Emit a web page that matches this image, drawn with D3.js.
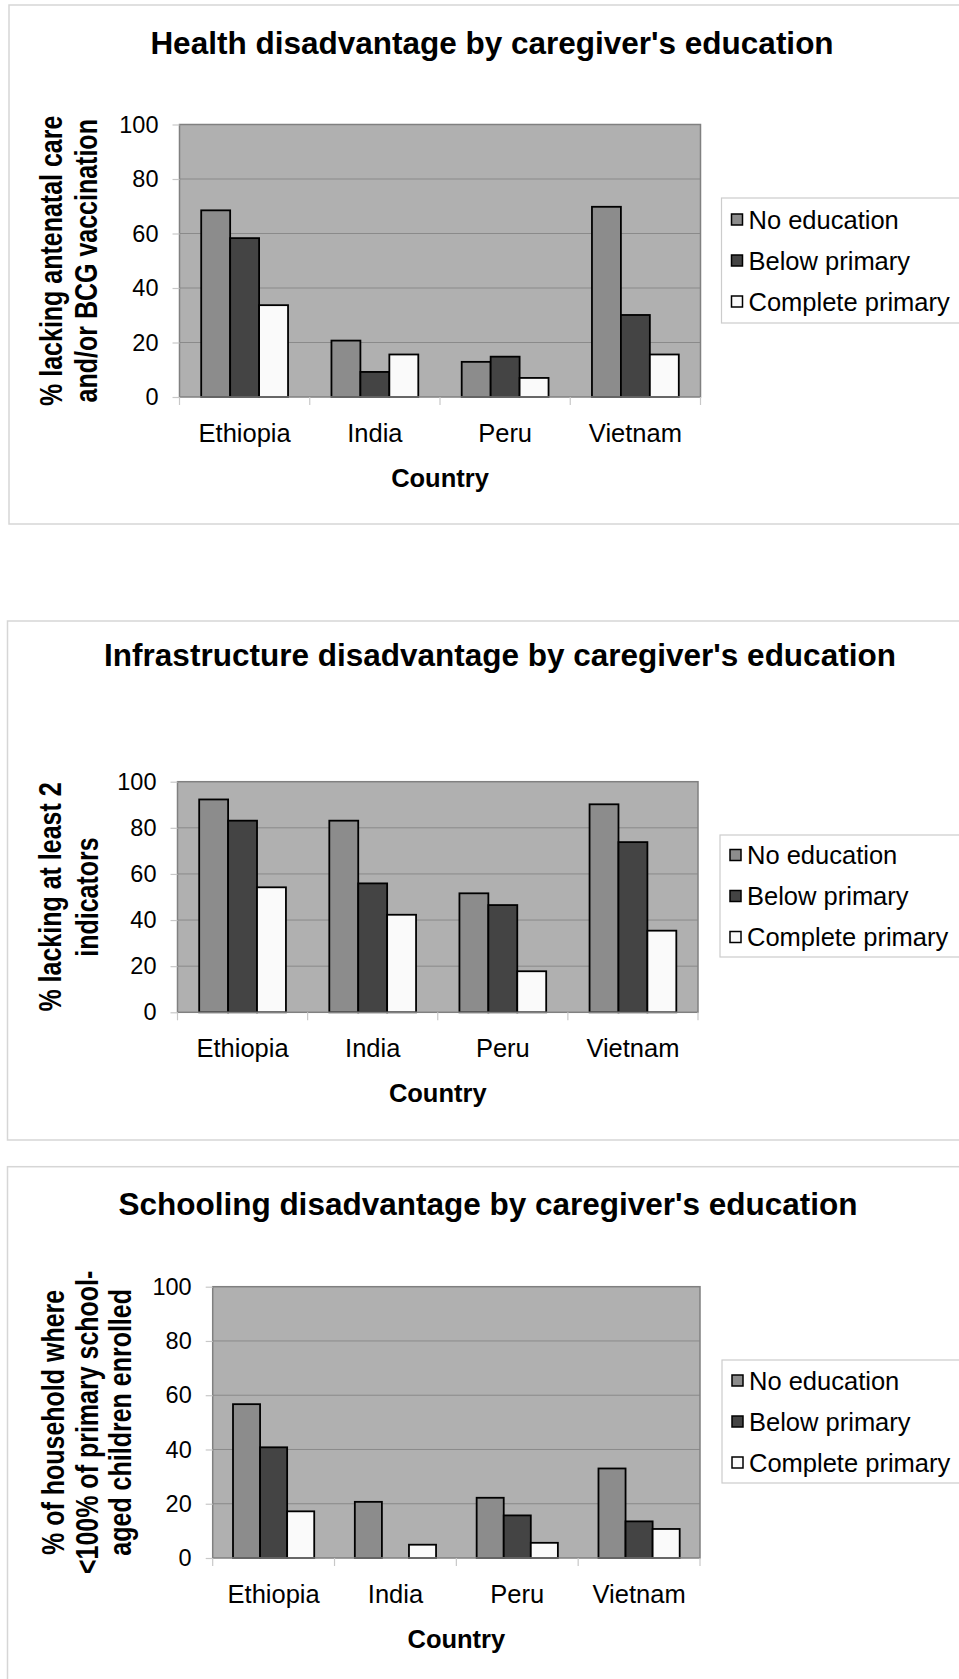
<!DOCTYPE html>
<html>
<head>
<meta charset="utf-8">
<script src="https://cdn.jsdelivr.net/npm/d3@7/dist/d3.min.js"></script>
<style>
  html, body { margin: 0; padding: 0; background: #ffffff; }
  svg { display: block; }
  text { font-family: "Liberation Sans", Arial, Helvetica, sans-serif; fill: #000; }
</style>
</head>
<body>
<svg id="page" width="959" height="1679"></svg>
<script>
// ---- data -------------------------------------------------------------
const countries = ["Ethiopia", "India", "Peru", "Vietnam"];
const seriesNames = ["No education", "Below primary", "Complete primary"];
const yTicks = [0, 20, 40, 60, 80, 100];

// % lacking antenatal care and/or BCG vaccination
const healthNoEducation      = [68.5, 20.7, 12.9, 69.8];
const healthBelowPrimary     = [58.3,  9.2, 14.8, 30.1];
const healthCompletePrimary  = [33.7, 15.6,  7.0, 15.6];

// % lacking at least 2 infrastructure indicators
const infraNoEducation       = [92.3, 83.1, 51.6, 90.2];
const infraBelowPrimary      = [83.1, 55.9, 46.5, 73.8];
const infraCompletePrimary   = [54.2, 42.3, 17.8, 35.4];

// % of households where <100% of primary school-aged children enrolled
const schoolNoEducation      = [56.7, 20.7, 22.2, 33.0];
const schoolBelowPrimary     = [40.8,  0.0, 15.7, 13.5];
const schoolCompletePrimary  = [17.2,  4.9,  5.6, 10.7];

// ---- styling ----------------------------------------------------------
const seriesFill = ["#8c8c8c", "#444444", "#fafafa"];
const plotFill = "#b0b0b0";

// ---- panel layout -----------------------------------------------------
const panels = [
  {
    title: "Health disadvantage by caregiver's education",
    yTitle: ["% lacking antenatal care", "and/or BCG vaccination"],
    series: [healthNoEducation, healthBelowPrimary, healthCompletePrimary],
    frame: { x: 9, y: 5, w: 980, h: 519 },
    titleXY: [492, 53.5],
    plot: { l: 179.5, r: 700.5, t: 124.5, b: 397 },
    legend: { x: 721.5, y: 198, h: 125 },
    yTitleX: [62, 97]
  },
  {
    title: "Infrastructure disadvantage by caregiver's education",
    yTitle: ["% lacking at least 2", "indicators"],
    series: [infraNoEducation, infraBelowPrimary, infraCompletePrimary],
    frame: { x: 7.5, y: 621, w: 990, h: 519 },
    titleXY: [500, 665.7],
    plot: { l: 177.5, r: 698, t: 781.7, b: 1012.3 },
    legend: { x: 720, y: 835, h: 122 },
    yTitleX: [61, 98]
  },
  {
    title: "Schooling disadvantage by caregiver's education",
    yTitle: ["% of household where", "<100% of primary school-", "aged children enrolled"],
    series: [schoolNoEducation, schoolBelowPrimary, schoolCompletePrimary],
    frame: { x: 7.5, y: 1166.7, w: 990, h: 560 },
    titleXY: [488, 1215],
    plot: { l: 212.7, r: 700, t: 1286.7, b: 1558 },
    legend: { x: 722, y: 1360, h: 123 },
    yTitleX: [64, 98, 131]
  }
];

const svg = d3.select("#page");

panels.forEach(p => {
  const g = svg.append("g");

  // chart area outline
  g.append("rect")
    .attr("x", p.frame.x).attr("y", p.frame.y)
    .attr("width", p.frame.w).attr("height", p.frame.h)
    .attr("fill", "#fff").attr("stroke", "#d6d6d6").attr("stroke-width", 1.5);

  // title
  g.append("text")
    .attr("x", p.titleXY[0]).attr("y", p.titleXY[1])
    .attr("text-anchor", "middle")
    .style("font-size", "31.5px").style("font-weight", "bold")
    .text(p.title);

  const x0 = d3.scaleBand().domain(countries).range([p.plot.l, p.plot.r]).paddingInner(0).paddingOuter(0);
  // 150% gap between groups: group occupies 3/4.5 of each band
  const groupW = x0.bandwidth() * 3 / 4.5;
  const x1 = d3.scaleBand().domain(seriesNames).range([0, groupW]).padding(0);
  const y = d3.scaleLinear().domain([0, 100]).range([p.plot.b, p.plot.t]);

  // plot background
  g.append("rect")
    .attr("x", p.plot.l).attr("y", p.plot.t)
    .attr("width", p.plot.r - p.plot.l).attr("height", p.plot.b - p.plot.t)
    .attr("fill", plotFill);

  // gridlines
  g.append("g").selectAll("line")
    .data(yTicks.filter(v => v > 0 && v < 100))
    .join("line")
    .attr("x1", p.plot.l).attr("x2", p.plot.r)
    .attr("y1", d => y(d)).attr("y2", d => y(d))
    .attr("stroke", "#8a8a8a").attr("stroke-width", 1);

  // bars
  const groups = g.append("g").selectAll("g")
    .data(countries)
    .join("g")
    .attr("transform", c => `translate(${x0(c) + (x0.bandwidth() - groupW) / 2},0)`);

  groups.selectAll("rect")
    .data((c, ci) => seriesNames.map((s, si) => ({ s, si, v: p.series[si][ci] })))
    .join("rect")
    .filter(d => d.v > 0)
    .attr("x", d => x1(d.s))
    .attr("y", d => y(d.v))
    .attr("width", x1.bandwidth())
    .attr("height", d => y(0) - y(d.v))
    .attr("fill", d => seriesFill[d.si])
    .attr("stroke", "#000").attr("stroke-width", 1.8);

  // plot border
  g.append("rect")
    .attr("x", p.plot.l).attr("y", p.plot.t)
    .attr("width", p.plot.r - p.plot.l).attr("height", p.plot.b - p.plot.t)
    .attr("fill", "none").attr("stroke", "#808080").attr("stroke-width", 1.5);

  // y axis
  const yAxis = d3.axisLeft(y).tickValues(yTicks).tickSize(7).tickPadding(14).tickFormat(d3.format("d"));
  const ya = g.append("g").attr("transform", `translate(${p.plot.l},0)`).call(yAxis);
  ya.select(".domain").remove();
  ya.selectAll(".tick line").attr("stroke", "#c8c8c8").attr("stroke-width", 1.2);
  ya.selectAll(".tick text")
    .style("font-size", "23.5px")
    .style("font-family", "'Liberation Sans', Arial, sans-serif")
    .attr("fill", "#000");

  // x axis
  const xAxis = d3.axisBottom(x0).tickSize(0).tickPadding(0);
  const xa = g.append("g").attr("transform", `translate(0,${p.plot.b})`).call(xAxis);
  xa.select(".domain").remove();
  xa.selectAll(".tick text")
    .attr("y", 45).attr("dy", 0)
    .style("font-size", "25.5px")
    .style("font-family", "'Liberation Sans', Arial, sans-serif")
    .attr("fill", "#000");
  // category divider ticks
  g.append("g").selectAll("line")
    .data(d3.range(countries.length + 1))
    .join("line")
    .attr("x1", i => p.plot.l + i * x0.bandwidth())
    .attr("x2", i => p.plot.l + i * x0.bandwidth())
    .attr("y1", p.plot.b).attr("y2", p.plot.b + 8)
    .attr("stroke", "#c8c8c8").attr("stroke-width", 1.2);

  // x axis title
  g.append("text")
    .attr("x", (p.plot.l + p.plot.r) / 2).attr("y", p.plot.b + 90)
    .attr("text-anchor", "middle")
    .style("font-size", "25.5px").style("font-weight", "bold")
    .text("Country");

  // y axis title (rotated, one text element per line)
  const cy = (p.plot.t + p.plot.b) / 2;
  p.yTitle.forEach((line, i) => {
    g.append("text")
      .attr("transform", `translate(${p.yTitleX[i]},${cy}) rotate(-90) scale(1,1.22)`)
      .attr("text-anchor", "middle")
      .style("font-size", "25px").style("font-weight", "bold")
      .text(line);
  });

  // legend
  const lg = g.append("g").attr("transform", `translate(${p.legend.x},${p.legend.y})`);
  lg.append("rect")
    .attr("x", 0).attr("y", 0).attr("width", 300).attr("height", p.legend.h)
    .attr("fill", "#fff").attr("stroke", "#cccccc").attr("stroke-width", 1.2);
  const rowStep = 41;
  const rowY0 = p.legend.h / 2 - rowStep;
  const items = lg.selectAll("g.item")
    .data(seriesNames)
    .join("g").attr("class", "item")
    .attr("transform", (d, i) => `translate(0,${rowY0 + i * rowStep})`);
  items.append("rect")
    .attr("x", 10).attr("y", -5.5).attr("width", 11).attr("height", 11)
    .attr("fill", (d, i) => seriesFill[i])
    .attr("stroke", "#000").attr("stroke-width", 1.5);
  items.append("text")
    .attr("x", 27).attr("y", 0).attr("dy", "0.36em")
    .style("font-size", "25.5px")
    .text(d => d);
});
</script>
</body>
</html>
